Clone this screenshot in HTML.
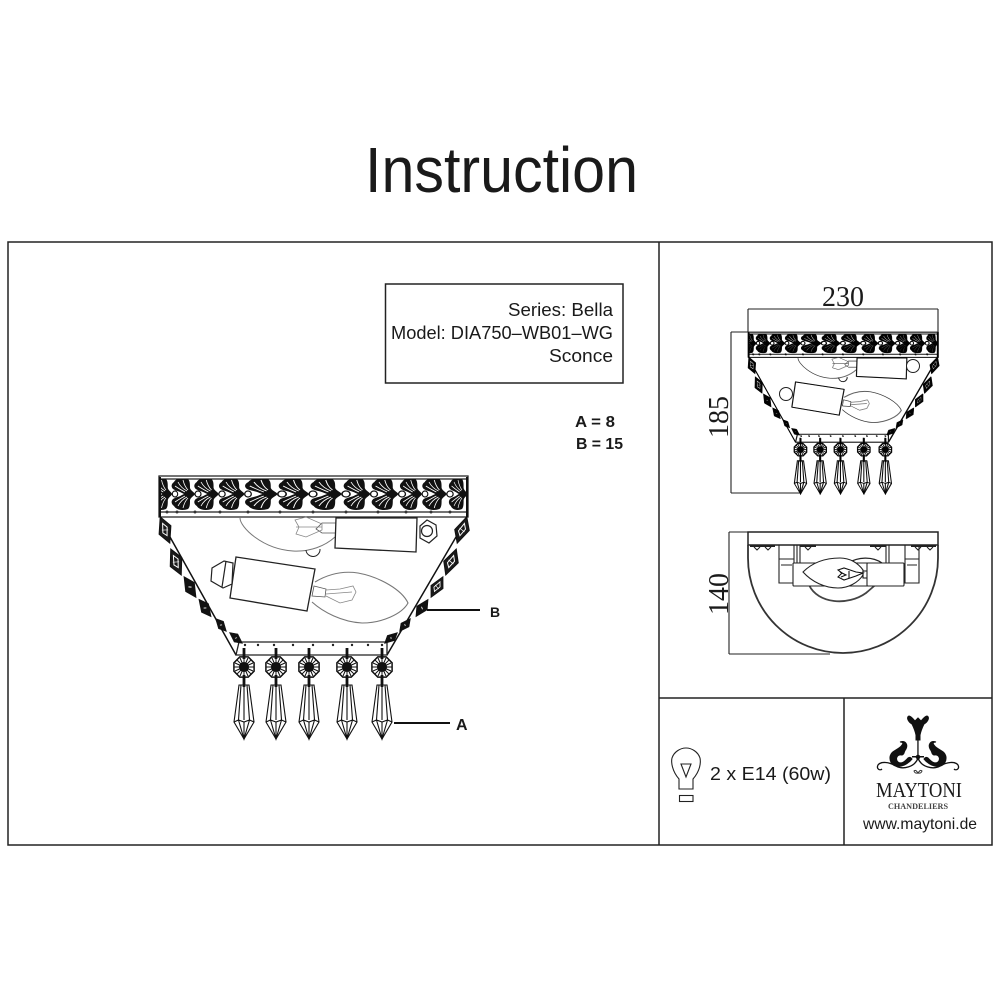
<!DOCTYPE html>
<html><head><meta charset="utf-8"><style>
html,body{margin:0;padding:0;background:#fff}
svg{display:block}
text{fill:#1a1a1a}
.s{font-family:"Liberation Sans",sans-serif}
.f{font-family:"Liberation Serif",serif}
.m{mix-blend-mode:multiply}
</style></head><body>
<svg width="1000" height="1000" viewBox="0 0 1000 1000" xmlns="http://www.w3.org/2000/svg">
<defs>
<clipPath id="bc"><rect x="160" y="479" width="307" height="31"/></clipPath>
<g id="h"><path d="M-3 0C-5-3-7-3-8-6C-8-10-8-13-10-15C-15-17-22-16-24-12C-27-10-27-7-25-5C-22-3-19-3-16-1L-14 0L-16 1C-19 3-22 3-25 5C-27 7-27 10-24 12C-22 16-15 17-10 15C-8 13-8 10-8 6C-7 3-5 3-3 0Z" fill="#111"/>
<path d="M-20-12C-18-8-15-5-11-3M-15-14C-14-10-13-7-10-4M-23-8C-20-6-17-4-13-2M-20 12C-18 8-15 5-11 3M-15 14C-14 10-13 7-10 4M-23 8C-20 6-17 4-13 2" fill="none" stroke="#fff" stroke-width=".8"/>
<path d="M-9 0H-3" stroke="#111" stroke-width="1"/>
<circle cx="0" cy="0" r="3" fill="#fff" stroke="#111" stroke-width="1.200"/>
</g>
<g id="d">
<path d="M0-14L7-2L0 14L-7 2Z" fill="#1a1a1a" stroke="#111" stroke-width="1"/>
<path d="M0-7L3-2L0 6L-3 2Z" fill="none" stroke="#fff" stroke-width="1"/>
<path d="M-3-1L3 1" stroke="#fff" stroke-width=".7"/>
</g>
<g id="d2">
<path d="M0-14L7-2L0 14L-7 2Z" fill="#111" stroke="#111" stroke-width="1"/>
<path d="M-1.500-1L1.500 1" stroke="#fff" stroke-width="1.200"/>
</g>
<g id="p" fill="none" stroke="#111" stroke-width="1.100">
<path d="M-4.200 -10.100L4.200 -10.100L10.100 -4.200V4.200L4.200 10.100H-4.200L-10.100 4.200V-4.200Z" fill="#fff" stroke-width="1.500"/>
<path d="M-10 0H10M0-10V10M-7-7L7 7M-7 7L7-7M-9-4L9 4M-9 4L9-4M-4-9L4 9M-4 9L4-9" stroke-width="1"/>
<circle r="4.500" fill="#111"/>
<path d="M-5 18H5L10 55L0 72L-10 55Z" fill="#fff"/>
<path d="M-3 18L-5.500 53L0 72L5.500 53L3 18M-10 55L-5.500 53L0 55L5.500 53L10 55M0 55V72M0 18V53" />
<path d="M0 -19V-8M0 8V20" stroke-width="2.800"/>
</g>
<g id="lamp">
<path d="M159 476H468V517H159Z" fill="#fff" stroke="#222" stroke-width="1.300"/>
<path d="M159 479H468M159 512H468" stroke="#222" stroke-width="1.200"/>
<g clip-path="url(#bc)">
<g transform="translate(175 494) scale(.9 1)"><use href="#h"/></g>
<g transform="translate(198 494) scale(1 1)"><use href="#h"/></g>
<g transform="translate(222 494) scale(1.050 1)"><use href="#h"/></g>
<g transform="translate(248 494) scale(1.100 1)"><use href="#h"/></g>
<g transform="translate(282 494) scale(1.400 1)"><use href="#h"/></g>
<g transform="translate(313 494) scale(1.300 1)"><use href="#h"/></g>
<g transform="translate(346 494) scale(1.350 1)"><use href="#h"/></g>
<g transform="translate(374 494) scale(1.150 1)"><use href="#h"/></g>
<g transform="translate(402 494) scale(1.150 1)"><use href="#h"/></g>
<g transform="translate(425 494) scale(.95 1)"><use href="#h"/></g>
<g transform="translate(450 494) scale(1.050 1)"><use href="#h"/></g>
<g transform="translate(470 494) scale(.8 1)"><use href="#h"/></g>
</g>
<path d="M160 477V517M467 477V517" stroke="#111" stroke-width="2"/>
<g fill="#333"><circle cx="167" cy="512" r="1.500"/><circle cx="177" cy="512" r="1.500"/><circle cx="195" cy="512" r="1.500"/><circle cx="220" cy="512" r="1.500"/><circle cx="248" cy="512" r="1.500"/><circle cx="280" cy="512" r="1.500"/><circle cx="313" cy="512" r="1.500"/><circle cx="346" cy="512" r="1.500"/><circle cx="378" cy="512" r="1.500"/><circle cx="406" cy="512" r="1.500"/><circle cx="431" cy="512" r="1.500"/><circle cx="450" cy="512" r="1.500"/></g>
<path d="M170 537L236 655M456 537L387 655" stroke="#111" stroke-width="1.500" fill="none"/>
<path d="M239 642H387V655H236Z" fill="#fff" stroke="#222" stroke-width="1.300"/>
<g fill="#222"><circle cx="245" cy="645" r="1.200"/><circle cx="258" cy="645" r="1.200"/><circle cx="274" cy="645" r="1.200"/><circle cx="293" cy="645" r="1.200"/><circle cx="313" cy="645" r="1.200"/><circle cx="333" cy="645" r="1.200"/><circle cx="352" cy="645" r="1.200"/><circle cx="368" cy="645" r="1.200"/><circle cx="382" cy="645" r="1.200"/></g>
<g transform="translate(165 530) rotate(-20)"><use href="#d"/></g>
<g transform="translate(176 562) rotate(-22)"><use href="#d"/></g>
<g transform="translate(190 587) rotate(-30) scale(.85)"><use href="#d2"/></g>
<g transform="translate(205 608) rotate(-35) scale(.75)"><use href="#d2"/></g>
<g transform="translate(221 625) rotate(-40) scale(.6)"><use href="#d2"/></g>
<g transform="translate(236 638) rotate(-50) scale(.6)"><use href="#d2"/></g>
<g transform="translate(462 530) rotate(20)"><use href="#d"/></g>
<g transform="translate(451 562) rotate(22)"><use href="#d"/></g>
<g transform="translate(437 587) rotate(30) scale(.85)"><use href="#d"/></g>
<g transform="translate(422 608) rotate(35) scale(.75)"><use href="#d2"/></g>
<g transform="translate(405 625) rotate(40) scale(.6)"><use href="#d2"/></g>
<g transform="translate(391 638) rotate(50) scale(.6)"><use href="#d2"/></g>
<use href="#p" x="244" y="667"/><use href="#p" x="276" y="667"/><use href="#p" x="309" y="667"/><use href="#p" x="347" y="667"/><use href="#p" x="382" y="667"/>
<path d="M240 518C240 527 262 549 293 551C310 552 325 546 335 537" fill="none" stroke="#777" stroke-width="1"/>
<path d="M306 550A7 7 0 0 0 320 549" fill="none" stroke="#222" stroke-width="1"/>
<path d="M322 523H336V533H322L316 529Z" fill="#fff" stroke="#555" stroke-width=".8"/>
<path d="M295 520L306 517L322 524L322 530L306 537L296 534L299 527ZM296 527H322" fill="none" stroke="#888" stroke-width=".8"/>
<path d="M336 518H417L416 552L335 548Z" fill="#fff" stroke="#222" stroke-width="1.300"/>
<path d="M315 582C330 573 345 571 358 573C380 577 402 590 408 603C402 614 382 623 362 623C342 622 323 612 312 602" fill="#fff" stroke="#777" stroke-width="1.100"/>
<path d="M236 557L315 569L307 611L230 598Z" fill="#fff" stroke="#222" stroke-width="1.300"/>
<path d="M314 586L326 589L325 597L312 596Z" fill="#fff" stroke="#555" stroke-width=".8"/>
<path d="M326 590L340 589L353 586L356 592L352 600L340 603L326 596M326 594L352 592" fill="none" stroke="#888" stroke-width=".8"/>
</g>
</defs>

<rect width="1000" height="1000" fill="#fff"/>
<text x="365" y="192" class="s" font-size="64" textLength="273" lengthAdjust="spacingAndGlyphs">Instruction</text>

<rect x="8" y="242" width="984" height="603" fill="none" stroke="#222" stroke-width="1.500"/>
<path d="M659 242V845M659 698H992M844 698V845" stroke="#222" stroke-width="1.500" fill="none"/>

<rect x="385.500" y="284" width="237.500" height="99" fill="none" stroke="#222" stroke-width="1.500"/>
<g class="s" font-size="18.500" text-anchor="end">
<text x="613" y="316" textLength="105" lengthAdjust="spacingAndGlyphs">Series: Bella</text>
<text x="613" y="339" textLength="222" lengthAdjust="spacingAndGlyphs">Model: DIA750–WB01–WG</text>
<text x="613" y="362" textLength="64" lengthAdjust="spacingAndGlyphs">Sconce</text>
</g>
<text x="575" y="427" class="s" font-size="16" font-weight="bold" textLength="40" lengthAdjust="spacingAndGlyphs">A = 8</text>
<text x="576" y="449" class="s" font-size="16" font-weight="bold" textLength="47" lengthAdjust="spacingAndGlyphs">B = 15</text>

<use href="#lamp"/>
<g fill="#fff" stroke="#222" stroke-width="1.200">
<path d="M420 526L427 520L436 525L437 536L429 543L420 538Z" /><circle cx="427" cy="531" r="5.500"/>
<path d="M233 563L224 561L212 568L211 581L223 588L232 584Z"/>
<path d="M226 561L222 587" fill="none"/>
</g>
<path d="M427 610H480M394 723H450" stroke="#111" stroke-width="2"/>
<text x="490" y="617" class="s" font-size="14" font-weight="bold">B</text>
<text x="456" y="730" class="s" font-size="16" font-weight="bold">A</text>

<g class="m" transform="translate(748 332) scale(.615) translate(-159 -476)"><use href="#lamp"/></g>
<g class="m" transform="translate(748.400 332.300) scale(.615) translate(-159 -476)"><use href="#lamp"/></g>
<circle cx="786" cy="394" r="6.500" fill="#fff" stroke="#222" stroke-width="1"/>
<circle cx="913" cy="366" r="6.500" fill="#fff" stroke="#222" stroke-width="1"/>

<path d="M748 309H938M748 309V332M938 309V332M731 332H748M731 332V493M731 493H800M729 532H748M729 532V654M729 654H830" stroke="#222" stroke-width="1.100" fill="none"/>
<text x="843" y="306" class="f" font-size="28" text-anchor="middle">230</text>
<text transform="translate(728 417) rotate(-90)" class="f" font-size="28" text-anchor="middle">185</text>
<text transform="translate(728 594) rotate(-90)" class="f" font-size="28" text-anchor="middle">140</text>

<rect x="748" y="532" width="190" height="13" fill="#fff" stroke="#222" stroke-width="1.500"/>
<path d="M748 545V558A95 95 0 0 0 938 558V545" fill="none" stroke="#333" stroke-width="1.800"/>
<g fill="none" stroke="#222" stroke-width="1.100">
<path d="M750 546H775M800 546H816M870 546H886M911 546H936" stroke-width="2"/>
<path d="M754 547L757 550L760 547M765 547L768 550L771 547M805 547L808 550L811 547M875 547L878 550L881 547M915 547L918 550L921 547M927 547L930 550L933 547"/>
<path d="M779 545H794V583H779ZM779 559H794M781 565H792M905 545H919V583H905ZM905 559H919M907 565H917"/>
<path d="M797 545V563M800 545V563M886 545V563M889 545V563"/>
<path d="M809 585C818 604 848 606 866 593C872 588 875 585 877 584" stroke-width="1.800" stroke="#444"/>
<path d="M848 563C858 557 872 556 882 563" stroke-width="1.300"/>
<rect x="793" y="563" width="110" height="23" rx="1" fill="#fff"/>
<path d="M803 572C815 560 830 558 840 558C850 558 858 563 863 570V575C858 583 848 588 838 588C825 588 812 582 803 572Z" fill="#fff"/>
<path d="M863 571H868V578H863ZM838 570L844 568L856 572L863 573L856 576L844 580L838 577L842 573Z" fill="#fff" stroke="#111"/>
<path d="M840 572L846 575L841 577M849 571V578" stroke="#111"/>
<rect x="867" y="563" width="37" height="23" rx="1" fill="#fff"/>
</g>

<g fill="none" stroke="#222" stroke-width="1.100">
<path d="M679 789V779C672 771 671 762 672 758C674 752 680 748 686 748C692 748 698 752 700 758C701 763 700 771 693 779V789Z"/>
<path d="M681 764H691L686 777Z"/>
<rect x="679.500" y="795.500" width="13.500" height="6"/>
</g>
<text x="710" y="780" class="s" font-size="18" textLength="121" lengthAdjust="spacingAndGlyphs">2 x E14 (60w)</text>

<g fill="#111" stroke="#111" stroke-width="1">
<path d="M918 718L915 721C913 719 911 716 909 716C906 717 908 722 912 724C913 726 915 730 916 735L916 740L920 740L920 735C921 730 923 726 924 724C928 722 930 717 927 716C925 716 923 719 921 721Z"/>
<rect x="917.300" y="738" width="1.300" height="20" stroke="none"/>
<path d="M912 759C903 770 889 768 890 757C891 750 899 750 902 745C904 743 902 742 900 742C906 740 908 745 906 749C903 753 905 754 902 755C897 754 895 759 898 762C902 765 906 760 908 758C909 757 911 757 912 759Z"/>
<path d="M924 759C933 770 947 768 946 757C945 750 937 750 934 745C932 743 934 742 936 742C930 740 928 745 930 749C933 753 931 754 934 755C939 754 941 759 938 762C934 765 930 760 928 758C927 757 925 757 924 759Z"/>
<circle cx="918" cy="757" r="1.800"/>
<rect x="912" y="756" width="12" height="1.500" stroke="none"/>
</g>
<path d="M918 758C915 767 903 770 896 766C889 762 881 761 878 765C876 769 880 771 882 769M918 758C921 767 933 770 940 766C947 762 955 761 958 765C960 769 956 771 954 769" fill="none" stroke="#111" stroke-width="1.300"/>
<path d="M914 771C916 769 917 772 918 773C919 772 920 769 922 771C921 774 919 773 918 773C917 773 915 774 914 771Z" fill="none" stroke="#333" stroke-width="1"/>
<text x="876" y="797" class="f" font-size="21" textLength="86" lengthAdjust="spacingAndGlyphs">MAYTONI</text>
<text x="888" y="809" class="f" font-size="8.500" font-weight="bold" textLength="60" lengthAdjust="spacingAndGlyphs" style="fill:#444">CHANDELIERS</text>
<text x="863" y="829" class="s" font-size="16" textLength="114" lengthAdjust="spacingAndGlyphs">www.maytoni.de</text>
</svg>
</body></html>
